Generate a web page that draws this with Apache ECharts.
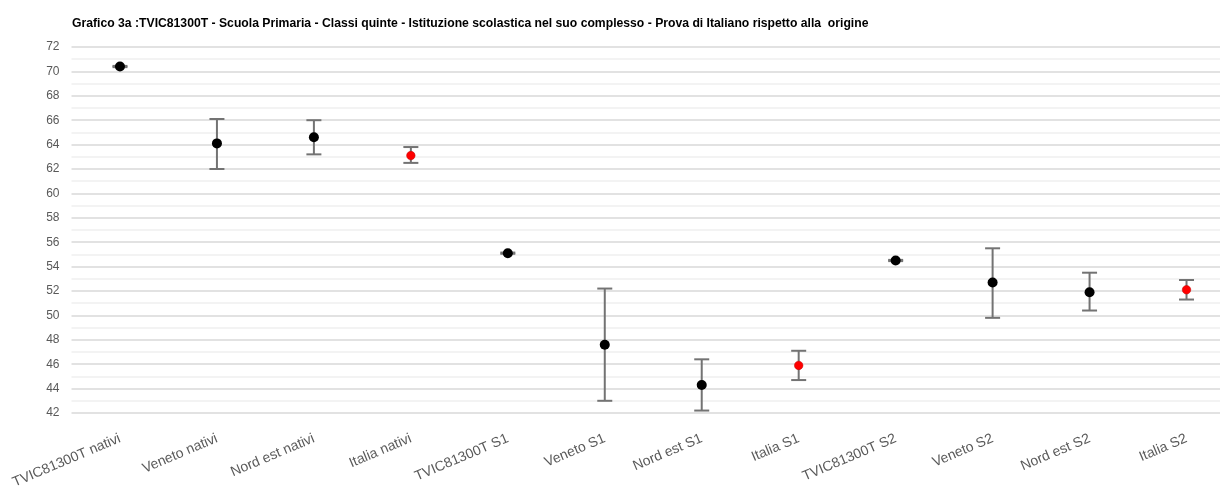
<!DOCTYPE html>
<html>
<head>
<meta charset="utf-8">
<script src="https://cdn.jsdelivr.net/npm/echarts@6/dist/echarts.min.js"></script>
<style>
html,body{margin:0;padding:0;background:#fff;overflow:hidden;}
#chart{width:1235px;height:493px;}
</style>
</head>
<body>
<div id="chart"></div>
<script>
const titleText = 'Grafico 3a :TVIC81300T - Scuola Primaria - Classi quinte - Istituzione scolastica nel suo complesso - Prova di Italiano rispetto alla  origine';
const categories = ['TVIC81300T nativi','Veneto nativi','Nord est nativi','Italia nativi','TVIC81300T S1','Veneto S1','Nord est S1','Italia S1','TVIC81300T S2','Veneto S2','Nord est S2','Italia S2'];
const means = [70.4, 64.1, 64.6, 63.1, 55.1, 47.6, 44.3, 45.9, 54.5, 52.7, 51.9, 52.1];
const lower = [70.35, 62.0, 63.2, 62.5, 55.05, 43.0, 42.2, 44.7, 54.45, 49.8, 50.4, 51.3];
const upper = [70.45, 66.1, 66.0, 63.8, 55.15, 52.2, 46.4, 47.1, 54.55, 55.5, 53.5, 52.9];
const yTicks = {min: 42, max: 72, interval: 2};

const chart = echarts.init(document.getElementById('chart'), null, {renderer: 'canvas'});

const errData = categories.map((c, i) => [i, lower[i], upper[i]]);
const blackPts = [], redPts = [];
categories.forEach((c, i) => {
  if (c.indexOf('Italia') === 0) { blackPts.push([i, null]); redPts.push([i, means[i]]); }
  else { blackPts.push([i, means[i]]); redPts.push([i, null]); }
});

chart.setOption({
  animation: false,
  backgroundColor: '#ffffff',
  title: {
    text: titleText,
    left: 67, top: 13,
    textStyle: {fontFamily: 'Liberation Sans, Arial, sans-serif', fontSize: 12.2, fontWeight: 'bold', color: '#000'}
  },
  grid: {left: 71.5, right: 0, top: 47, bottom: 80},
  xAxis: {
    type: 'category',
    data: categories,
    boundaryGap: true,
    axisLine: {show: false},
    axisTick: {show: false},
    splitLine: {show: false},
    axisLabel: {
      rotate: 23, margin: 25, interval: 0,
      fontFamily: 'Liberation Sans, Arial, sans-serif', fontSize: 14, color: '#595959'
    }
  },
  yAxis: {
    type: 'value',
    min: yTicks.min, max: yTicks.max, interval: yTicks.interval,
    axisLine: {show: false},
    axisTick: {show: false},
    axisLabel: {margin: 12, fontFamily: 'Liberation Sans, Arial, sans-serif', fontSize: 12, color: '#595959'},
    splitLine: {show: true, lineStyle: {color: '#d9d9d9', width: 1.5}},
    minorTick: {show: false, splitNumber: 2},
    minorSplitLine: {show: true, lineStyle: {color: '#efefef', width: 1.5}}
  },
  series: [
    {
      type: 'custom',
      data: errData,
      encode: {x: 0, y: [1, 2]},
      z: 2,
      renderItem: function (params, api) {
        const x = api.value(0);
        const lo = api.coord([x, api.value(1)]);
        const hi = api.coord([x, api.value(2)]);
        const hw = 7.5;
        const st = {stroke: '#737373', lineWidth: 2};
        return {
          type: 'group',
          children: [
            {type: 'line', shape: {x1: lo[0], y1: lo[1], x2: hi[0], y2: hi[1]}, style: st},
            {type: 'line', shape: {x1: lo[0] - hw, y1: lo[1], x2: lo[0] + hw, y2: lo[1]}, style: st},
            {type: 'line', shape: {x1: hi[0] - hw, y1: hi[1], x2: hi[0] + hw, y2: hi[1]}, style: st}
          ]
        };
      }
    },
    {
      type: 'scatter',
      data: blackPts,
      symbol: 'circle',
      symbolSize: 10,
      z: 3,
      itemStyle: {color: '#000000', opacity: 1}
    },
    {
      type: 'scatter',
      data: redPts,
      symbol: 'circle',
      symbolSize: 8.5,
      z: 3,
      itemStyle: {color: '#ff0000', opacity: 1, borderColor: '#c00000', borderWidth: 0.5}
    }
  ]
});
</script>
</body>
</html>
